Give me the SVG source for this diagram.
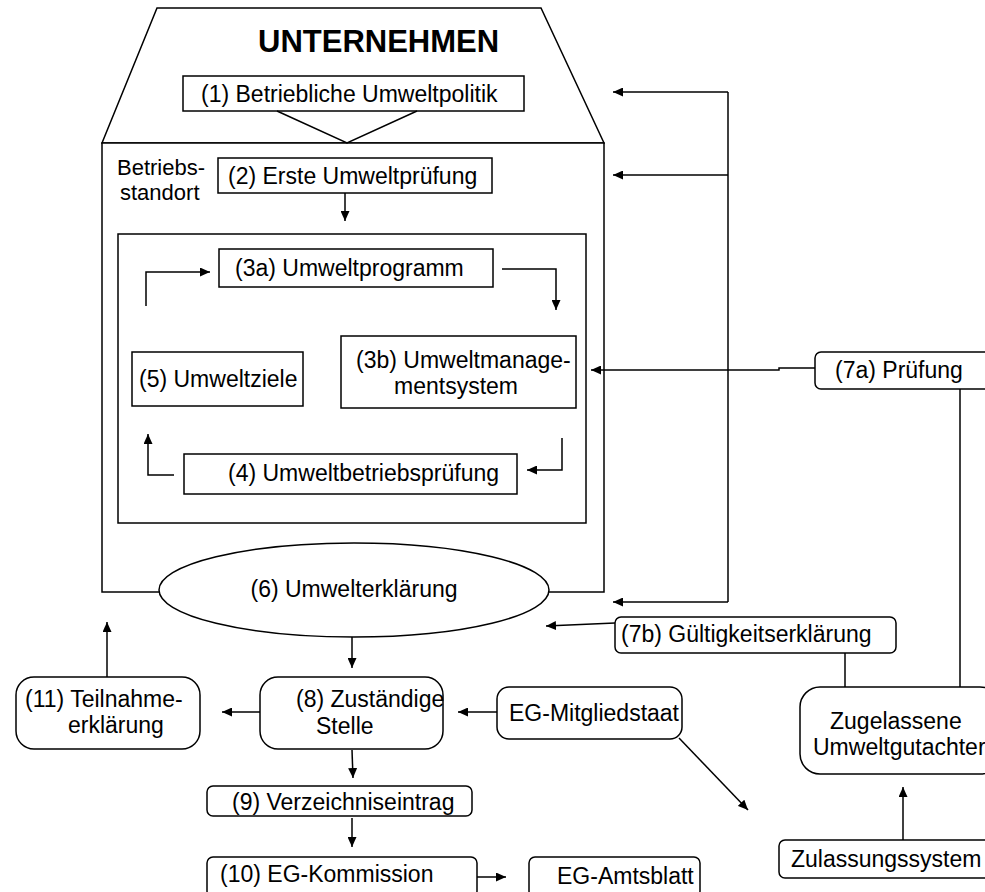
<svg xmlns="http://www.w3.org/2000/svg" width="985" height="892" viewBox="0 0 985 892">
<defs>
<marker id="ah" markerUnits="userSpaceOnUse" markerWidth="10" markerHeight="9" refX="10" refY="4.5" orient="auto">
<path d="M0,0 L10,4.5 L0,9 z" fill="#000"/>
</marker>
<style>
.b{fill:#fff;stroke:#000;stroke-width:1.5}
.c{fill:none;stroke:#000;stroke-width:1.5}
.a{fill:none;stroke:#000;stroke-width:1.5;marker-end:url(#ah)}
text{font-family:"Liberation Sans",Arial,sans-serif;font-size:23px;fill:#000}
.h{font-size:31px;font-weight:bold}
.s{font-size:22px}
</style>
</defs>
<rect width="985" height="892" fill="#fff"/>
<g id="unternehmen">
<polygon class="b" points="157,8 541,8 604,143 102,143"/>
<text class="h" x="258" y="52">UNTERNEHMEN</text>
</g>
<g id="standort">
<rect class="b" x="102" y="143" width="502" height="449"/>
<text class="s" x="117" y="175">Betriebs-</text>
<text class="s" x="120" y="200">standort</text>
</g>
<g id="inner">
<rect class="b" x="118" y="234" width="468" height="289"/>
</g>
<g id="n1">
<rect class="b" x="183" y="76" width="341" height="35"/>
<text x="201" y="102">(1) Betriebliche Umweltpolitik</text>
</g>
<g id="n2">
<rect class="b" x="218" y="158" width="274" height="35"/>
<text x="228" y="184">(2) Erste Umweltprüfung</text>
</g>
<g id="n3a">
<rect class="b" x="219" y="249" width="274" height="38"/>
<text x="235" y="276">(3a) Umweltprogramm</text>
</g>
<g id="n5">
<rect class="b" x="132" y="352" width="171" height="54"/>
<text x="139" y="387">(5) Umweltziele</text>
</g>
<g id="n3b">
<rect class="b" x="341" y="336" width="235" height="72"/>
<text x="356" y="368">(3b) Umweltmanage-</text>
<text x="394" y="394">mentsystem</text>
</g>
<g id="n4">
<rect class="b" x="184" y="454" width="333" height="40"/>
<text x="228" y="481">(4) Umweltbetriebsprüfung</text>
</g>
<g id="n6">
<ellipse class="b" cx="354" cy="590" rx="195" ry="47"/>
<text x="354" y="597" text-anchor="middle">(6) Umwelterklärung</text>
</g>
<g id="n7a">
<rect class="b" x="815" y="352" width="185" height="37" rx="6"/>
<text x="835" y="378">(7a) Prüfung</text>
</g>
<g id="n7b">
<rect class="b" x="615" y="617" width="281" height="36" rx="6"/>
<text x="621" y="642">(7b) Gültigkeitserklärung</text>
</g>
<g id="gutachter">
<rect class="b" x="800" y="687" width="200" height="87" rx="20"/>
<text x="830" y="729">Zugelassene</text>
<text x="813" y="755">Umweltgutachter</text>
</g>
<g id="zulassung">
<rect class="b" x="779" y="840" width="220" height="38" rx="6"/>
<text x="791" y="867">Zulassungssystem</text>
</g>
<g id="mitglied">
<rect class="b" x="497" y="687" width="185" height="52" rx="12"/>
<text x="509" y="721">EG-Mitgliedstaat</text>
</g>
<g id="n8">
<rect class="b" x="260" y="677" width="183" height="72" rx="18"/>
<text x="296" y="707">(8) Zuständige</text>
<text x="316" y="734">Stelle</text>
</g>
<g id="n11">
<rect class="b" x="16" y="677" width="184" height="72" rx="18"/>
<text x="25" y="707">(11) Teilnahme-</text>
<text x="68" y="733">erklärung</text>
</g>
<g id="n9">
<rect class="b" x="207" y="786" width="265" height="30" rx="6"/>
<text x="232" y="810">(9) Verzeichniseintrag</text>
</g>
<g id="n10">
<rect class="b" x="207" y="857" width="270" height="40" rx="6"/>
<text x="220" y="882">(10) EG-Kommission</text>
</g>
<g id="amtsblatt">
<rect class="b" x="529" y="857" width="171" height="40" rx="6"/>
<text x="557" y="884">EG-Amtsblatt</text>
</g>
<g id="connectors">
<polyline class="c" points="277,111 347,143 417,111"/>
<line class="a" x1="345" y1="193" x2="345" y2="221"/>
<polyline class="a" points="146,306 146,272 210,272"/>
<polyline class="a" points="502,269 556,269 556,310"/>
<polyline class="a" points="562,438 562,470 527,470"/>
<polyline class="a" points="174,475 148,475 148,434"/>
<line class="c" x1="728" y1="92" x2="728" y2="602"/>
<line class="a" x1="728" y1="92" x2="613" y2="92"/>
<line class="a" x1="728" y1="175" x2="613" y2="175"/>
<line class="a" x1="728" y1="602" x2="613" y2="602"/>
<polyline class="a" points="815,368 779,368 779,370 591,370"/>
<line class="c" x1="960" y1="389" x2="960" y2="687"/>
<line class="a" x1="615" y1="623" x2="546" y2="626"/>
<line class="c" x1="845" y1="653" x2="845" y2="687"/>
<line class="a" x1="903" y1="840" x2="903" y2="787"/>
<line class="a" x1="497" y1="712" x2="458" y2="712"/>
<line class="a" x1="679" y1="738" x2="748" y2="810"/>
<line class="a" x1="352" y1="637" x2="352" y2="668"/>
<line class="a" x1="260" y1="712" x2="222" y2="712"/>
<line class="a" x1="107" y1="677" x2="107" y2="622"/>
<line class="a" x1="352" y1="750" x2="353" y2="778"/>
<line class="a" x1="352" y1="818" x2="352" y2="847"/>
<line class="a" x1="477" y1="877" x2="506" y2="877"/>
</g>
</svg>
